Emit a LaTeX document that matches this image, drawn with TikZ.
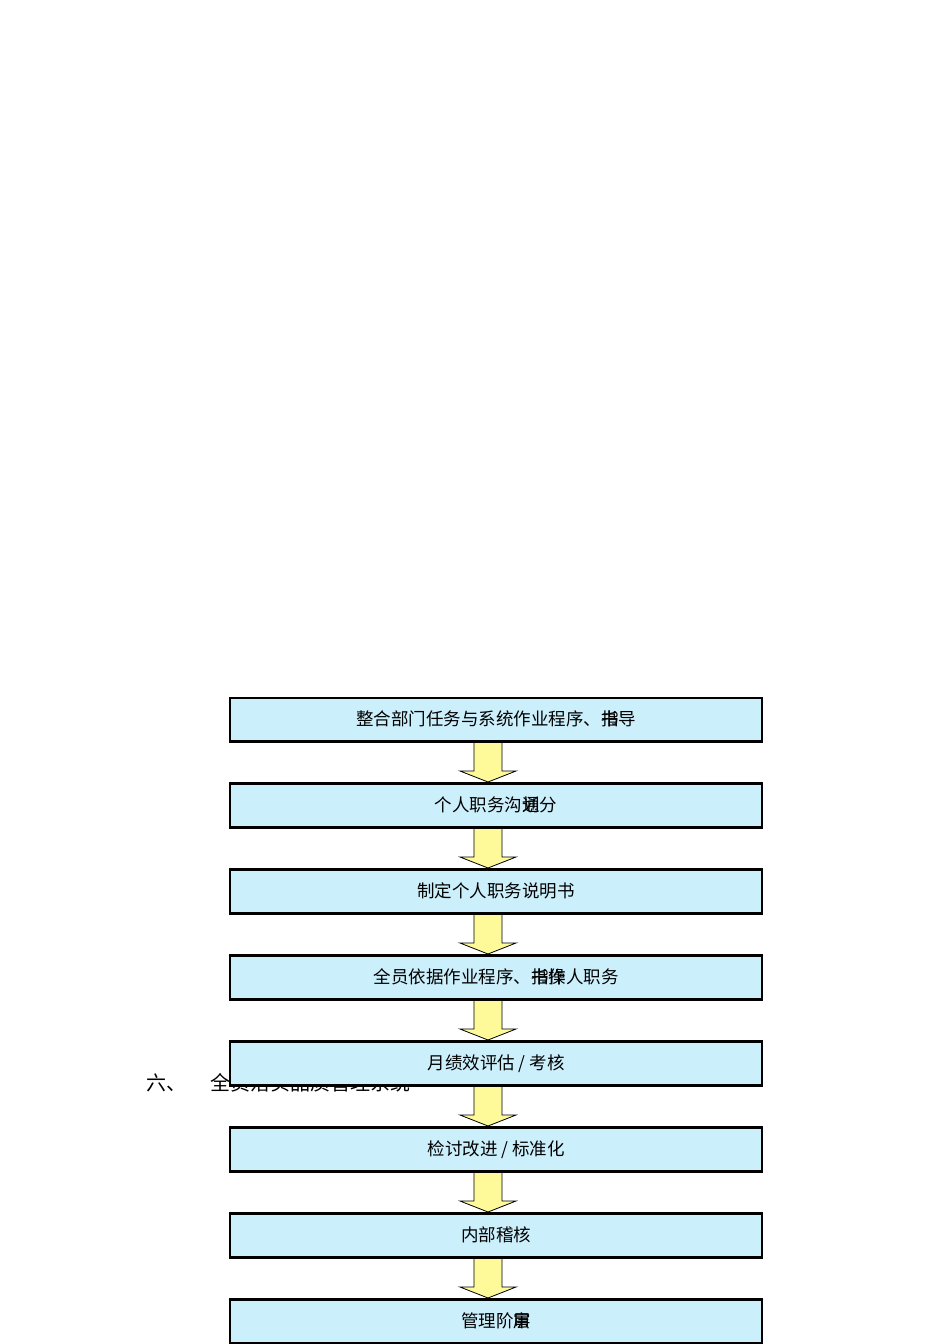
\documentclass[tikz,border=0pt]{standalone}
\usepackage{fontspec}
\newfontfamily\cjk{Noto Sans CJK SC}
\begin{document}
\begin{tikzpicture}[x=1pt,y=-1pt,
  stepbox/.style={draw=black,line width=2.2pt,fill=cyan!20,minimum width=532pt,minimum height=43pt,anchor=north west,inner sep=0pt,font=\cjk\fontsize{17.5}{20}\selectfont},
  flow/.style={draw=black,line width=0.8pt,fill=yellow!40}]
\useasboundingbox (0,0) rectangle (950,1344);
\node[font=\cjk\fontsize{20}{22}\selectfont,anchor=west] (sec) at (143,1083) {六、\hspace{24pt}全员落实品质管理系统};
\foreach \i/\t in {0/{整合部门任务与系统作业程序、\rlap{指}书导},
  1/{个人职务沟\rlap{通}划分},
  2/{制定个人职务说明书},
  3/{全员依据作业程序、\rlap{指}书\rlap{操}作人职务},
  4/{月绩效评估 / 考核},
  5/{检讨改进 / 标准化},
  6/{内部稽核},
  7/{管理阶\rlap{层}审}}{
  \node[stepbox] (b\i) at (229,697+86*\i) {\raisebox{3pt}{\t}};
}
\foreach \i in {0,...,6}{
  \coordinate (s\i) at (488,741+86*\i);
  \coordinate (e\i) at (488,782+86*\i);
  \draw[flow] ([xshift=-14pt]s\i) -- ([xshift=-14pt,yshift=11pt]e\i) -- ([xshift=-28pt,yshift=11pt]e\i)
    -- (e\i) -- ([xshift=28pt,yshift=11pt]e\i) -- ([xshift=14pt,yshift=11pt]e\i) -- ([xshift=14pt]s\i) -- cycle;
}
\foreach \i [evaluate=\i as \j using int(\i+1)] in {0,...,6}{
  \draw[line width=2.2pt] (b\i.south west) -- (b\i.south east);
  \draw[line width=2.2pt] (b\j.north west) -- (b\j.north east);
}
\end{tikzpicture}
\end{document}
